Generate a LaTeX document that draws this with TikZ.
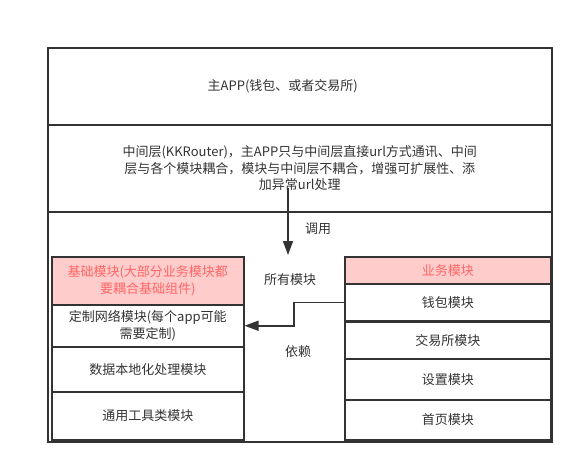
\documentclass[tikz,border=0pt]{standalone}
\usepackage{fontspec}
\setmainfont{Noto Sans CJK SC}
\usetikzlibrary{arrows.meta}
\definecolor{linegray}{HTML}{333333}
\definecolor{headfill}{HTML}{FFCCCC}
\definecolor{headtext}{HTML}{FF6666}
\tikzset{
  box/.style 2 args={draw=linegray,line width=1.5pt,rectangle,inner sep=0pt,
    minimum width=#1,minimum height=#2,anchor=north west,align=center,text=linegray},
  headbox/.style={fill=headfill,text=headtext},
  txt/.style={text=linegray,align=center,inner sep=1pt},
  link/.style={draw=linegray,line width=1.5pt,-{Triangle[length=14pt,width=10pt]}}
}
\begin{document}
\begin{tikzpicture}[x=1pt,y=-1pt,font=\fontsize{13pt}{16.5pt}\selectfont]
  \useasboundingbox (0,0) rectangle (584,474);
  % cadre exterieur + couches du haut
  \node[box={504pt}{394pt}] (frame) at (47,47) {};
  \node[box={504pt}{77pt}] (app) at (47,47) {};
  \node[txt] (apptxt) at ([xshift=-17pt]app.center) {主APP(钱包、或者交易所)};
  \node[box={504pt}{87pt}] (mid) at (47,124)
    {中间层(KKRouter)，主APP只与中间层直接url方式通讯、中间\\
     层与各个模块耦合，模块与中间层不耦合，增强可扩展性、添\\
     加异常url处理};

  % pile de gauche : modules de base
  \node[box={192pt}{48pt},headbox] (base) at (51,256)
    {基础模块(大部分业务模块都\\要耦合基础组件)};
  \node[box={192pt}{42pt}] (net) at (51,304) {定制网络模块(每个app可能\\需要定制)};
  \node[box={192pt}{45pt}] (data) at (51,346) {数据本地化处理模块};
  \node[box={192pt}{48pt}] (tool) at (51,391) {通用工具类模块};

  % pile de droite : modules metier
  \node[box={206pt}{27pt},headbox] (biz) at (344,256) {业务模块};
  \node[box={206pt}{37pt}] (wallet) at (344,283) {钱包模块};
  \node[box={206pt}{37pt}] (exch) at (344,321) {交易所模块};
  \node[box={206pt}{41pt}] (setting) at (344,358) {\raisebox{-8pt}{设置模块}};
  \node[box={206pt}{40pt}] (home) at (344,399) {首页模块};

  % appel et dependance
  \coordinate (callfrom) at (288,188);
  \coordinate (callto) at (288,255);
  \draw[link] (callfrom) -- (callto);
  \node[txt] (call) at (318,229) {调用};
  \node[txt] (all) at (290,280) {所有模块};
  \draw[link] (wallet.west) -- ++(-50,0) |- (net.east);
  \node[txt] (dep) at (298,352) {依赖};
\end{tikzpicture}
\end{document}
